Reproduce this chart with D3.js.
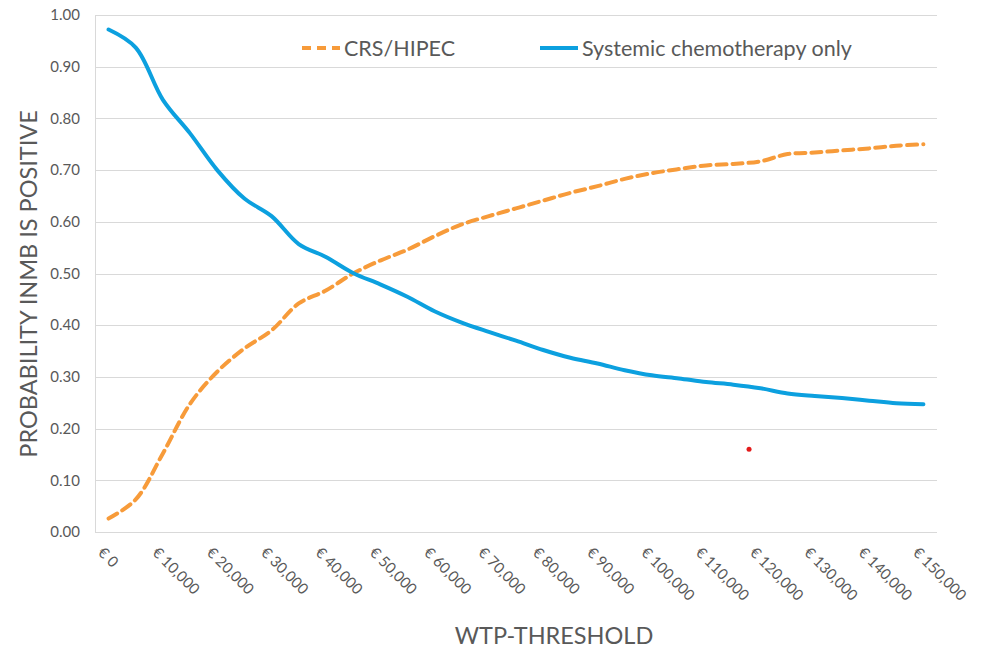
<!DOCTYPE html>
<html>
<head>
<meta charset="utf-8">
<script src="https://cdn.jsdelivr.net/npm/d3@7.9.0/dist/d3.min.js"></script>
<style>
  body { margin: 0; background: #fff; }
  svg text { font-family: Lato, "Open Sans", sans-serif; fill: #595959; }
</style>
</head>
<body>
<svg id="chart" width="983" height="652"></svg>
<script>
// WTP thresholds (euro), one point per 5,000
const wtp = [0, 5000, 10000, 15000, 20000, 25000, 30000, 35000, 40000, 45000,
  50000, 55000, 60000, 65000, 70000, 75000, 80000, 85000, 90000, 95000,
  100000, 105000, 110000, 115000, 120000, 125000, 130000, 135000, 140000, 145000, 150000];

const crsHipec = [0.026, 0.063, 0.152, 0.248, 0.310, 0.355, 0.390, 0.442, 0.467, 0.500,
  0.525, 0.546, 0.572, 0.595, 0.611, 0.626, 0.641, 0.656, 0.669, 0.683,
  0.694, 0.702, 0.709, 0.712, 0.717, 0.731, 0.734, 0.738, 0.742, 0.747, 0.750];

const systemic = [0.972, 0.937, 0.836, 0.771, 0.700, 0.645, 0.611, 0.557, 0.532, 0.501,
  0.479, 0.455, 0.427, 0.405, 0.387, 0.370, 0.352, 0.337, 0.326, 0.313,
  0.303, 0.297, 0.290, 0.285, 0.278, 0.268, 0.263, 0.259, 0.254, 0.249, 0.247];

// labelled ticks on the x axis
const xTicks = [0, 10000, 20000, 30000, 40000, 50000, 60000, 70000, 80000,
  90000, 100000, 110000, 120000, 130000, 140000, 150000];
const yTicks = [0, 0.1, 0.2, 0.3, 0.4, 0.5, 0.6, 0.7, 0.8, 0.9, 1.0];

// stray red dot in the original figure
const strayDot = { wtp: 117900, p: 0.16 };

const series = [
  { name: 'CRS/HIPEC', values: crsHipec, color: '#F79B3A', dash: '10,6' },
  { name: 'Systemic chemotherapy only', values: systemic, color: '#0CA0DF', dash: null }
];

const svg = d3.select('#chart');
const plotLeft = 95, plotRight = 937, plotTop = 15, plotBottom = 532;

const x = d3.scalePoint().domain(wtp).range([plotLeft, plotRight]).padding(0.5);
const xLin = d3.scaleLinear().domain([0, 150000]).range([x(0), x(150000)]);
const y = d3.scaleLinear().domain([0, 1]).range([plotBottom, plotTop]);

// horizontal gridlines
svg.append('g')
  .selectAll('line')
  .data(yTicks)
  .join('line')
  .attr('x1', plotLeft).attr('x2', plotRight)
  .attr('y1', d => Math.round(y(d)) + 0.5).attr('y2', d => Math.round(y(d)) + 0.5)
  .attr('stroke', '#d9d9d9').attr('stroke-width', 1);

// left axis line
svg.append('line')
  .attr('x1', plotLeft + 0.5).attr('x2', plotLeft + 0.5)
  .attr('y1', plotTop).attr('y2', plotBottom)
  .attr('stroke', '#d9d9d9');

// y tick labels
svg.append('g')
  .selectAll('text')
  .data(yTicks)
  .join('text')
  .attr('x', 80)
  .attr('y', d => y(d))
  .attr('dy', '0.35em')
  .attr('text-anchor', 'end')
  .style('font-size', '15px')
  .text(d3.format('.2f'));

// x tick labels, rotated 45 degrees
svg.append('g')
  .selectAll('text')
  .data(xTicks)
  .join('text')
  .attr('transform', d => `translate(${x(d) - 3},${545}) rotate(45)`)
  .attr('dy', '0.8em')
  .attr('text-anchor', 'start')
  .style('font-size', '15px')
  .text(d => '€ ' + d3.format(',')(d));

// axis titles
svg.append('text')
  .attr('transform', `translate(37,${284}) rotate(-90)`)
  .attr('text-anchor', 'middle')
  .style('font-size', '23.5px')
  .text('PROBABILITY INMB IS POSITIVE');

svg.append('text')
  .attr('x', 554).attr('y', 644)
  .attr('text-anchor', 'middle')
  .style('font-size', '23.5px')
  .text('WTP-THRESHOLD');

// lines
const line = d3.line()
  .x((d, i) => x(wtp[i]))
  .y(d => y(d))
  .curve(d3.curveCatmullRom.alpha(0.5));

series.forEach(s => {
  svg.append('path')
    .attr('d', line(s.values))
    .attr('fill', 'none')
    .attr('stroke', s.color)
    .attr('stroke-width', 4)
    .attr('stroke-linejoin', 'round')
    .attr('stroke-linecap', 'round')
    .attr('stroke-dasharray', s.dash);
});

// stray dot
svg.append('circle')
  .attr('cx', xLin(strayDot.wtp))
  .attr('cy', y(strayDot.p))
  .attr('r', 2.5)
  .attr('fill', '#e31b1b');

// legend
const legendPos = [302, 540];
series.forEach((s, i) => {
  const g = svg.append('g').attr('transform', `translate(${legendPos[i]},48)`);
  g.append('line')
    .attr('x1', 0).attr('x2', 38)
    .attr('stroke', s.color)
    .attr('stroke-width', 4)
    .attr('stroke-dasharray', s.dash ? '9,6' : null);
  g.append('text')
    .attr('x', 42).attr('dy', '0.35em')
    .style('font-size', '21.5px')
    .text(s.name);
});
</script>
</body>
</html>
